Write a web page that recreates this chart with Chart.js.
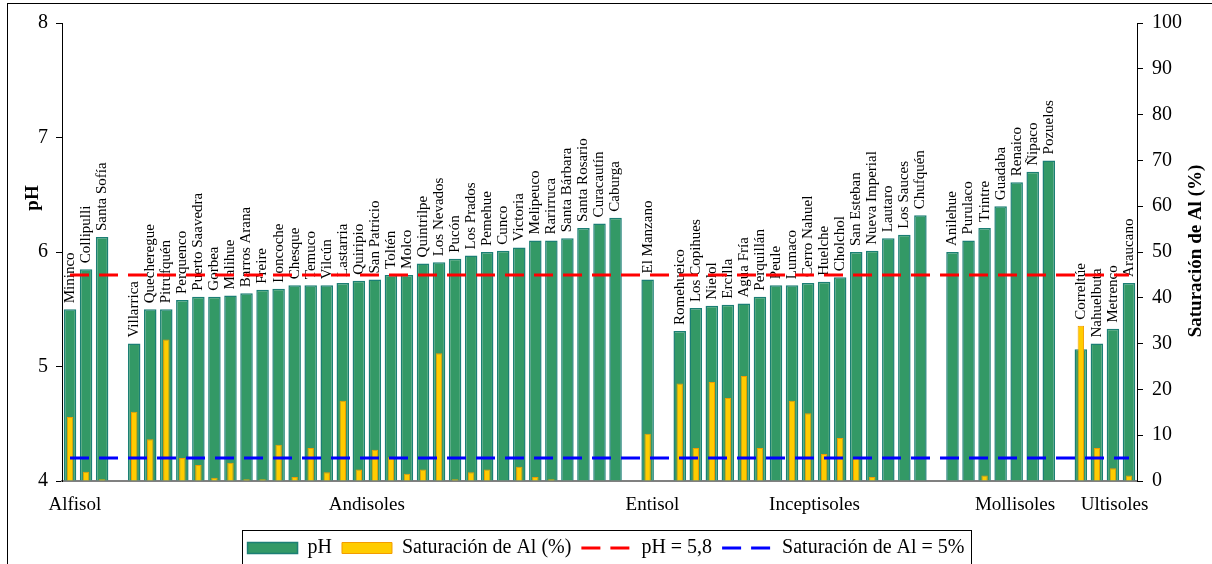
<!DOCTYPE html>
<html>
<head>
<meta charset="utf-8">
<title>pH y saturación de Al</title>
<script src="https://cdn.jsdelivr.net/npm/chart.js@4.4.1/dist/chart.umd.min.js"></script>
<style>
    html, body { margin: 0; padding: 0; background: #fff; overflow: hidden; }
    #wrap { position: relative; width: 1212px; height: 564px; }
    #frame { position: absolute; left: 7px; top: 3px; width: 1230px; height: 600px; border: 1px solid #000; box-sizing: border-box; pointer-events: none; }
</style>
</head>
<body>
<div id="wrap">
    <canvas id="chart" width="1212" height="564"></canvas>
    <div id="frame"></div>
</div>
<script>
// Soil orders and the sites in each one
const soilOrders = ['Alfisol', 'Andisoles', 'Entisol', 'Inceptisoles', 'Mollisoles', 'Ultisoles'];

const alfisolSites = ['Mininco', 'Collipulli', 'Santa Sofía'];
const andisolSites = ['Villarrica', 'Quecheregue', 'Pitrufquén', 'Perquenco', 'Puerto Saavedra', 'Gorbea', 'Malihue',
    'Barros Arana', 'Freire', 'Loncoche', 'Chesque', 'Temuco', 'Vilcún', 'Lastarria', 'Quiripio', 'San Patricio',
    'Toltén', 'Molco', 'Quintrilpe', 'Los Nevados', 'Pucón', 'Los Prados', 'Pemehue', 'Cunco', 'Victoria',
    'Melipeuco', 'Rarirruca', 'Santa Bárbara', 'Santa Rosario', 'Curacautín', 'Caburga'];
const entisolSites = ['El Manzano'];
const inceptisolSites = ['Romehueico', 'Los Copihues', 'Nielol', 'Ercilla', 'Agua Fría', 'Perquillán', 'Peule',
    'Lumaco', 'Cerro Nahuel', 'Huelche', 'Cholchol', 'San Esteban', 'Nueva Imperial', 'Lautaro', 'Los Sauces', 'Chufquén'];
const mollisolSites = ['Anilehue', 'Purulaco', 'Trintre', 'Guadaba', 'Renaico', 'Ñipaco', 'Pozuelos'];
const ultisolSites = ['Correltúe', 'Nahuelbuta', 'Metrenco', 'Araucano'];

// pH per site
const alfisolPh = [5.50, 5.85, 6.13];
const andisolPh = [5.20, 5.50, 5.50, 5.58, 5.61, 5.61, 5.62, 5.64, 5.67, 5.68, 5.71, 5.71, 5.71, 5.73, 5.75, 5.76,
    5.80, 5.80, 5.90, 5.91, 5.94, 5.97, 6.00, 6.01, 6.04, 6.10, 6.10, 6.12, 6.21, 6.25, 6.30];
const entisolPh = [5.76];
const inceptisolPh = [5.31, 5.51, 5.53, 5.54, 5.55, 5.61, 5.71, 5.71, 5.73, 5.74, 5.78, 6.00, 6.01, 6.12, 6.15, 6.32];
const mollisolPh = [6.00, 6.10, 6.21, 6.40, 6.61, 6.70, 6.80];
const ultisolPh = [5.15, 5.20, 5.33, 5.73];

// Al saturation (%) per site
const alfisolAl = [14, 2, 0.4];
const andisolAl = [15.1, 9.1, 30.9, 5.0, 3.5, 0.7, 4.0, 0.4, 0.4, 7.9, 0.9, 7.2, 1.9, 17.5, 2.5, 6.8,
    5.2, 1.6, 2.5, 27.9, 0.4, 1.9, 2.5, 0, 3.1, 0.9, 0.4, 0, 0, 0, 0];
const entisolAl = [10.3];
const inceptisolAl = [21.3, 7.2, 21.6, 18.1, 22.9, 7.2, 0, 17.5, 14.8, 5.9, 9.4, 5.2, 0.9, 0, 0, 0];
const mollisolAl = [0, 0, 1.2, 0, 0, 0, 0];
const ultisolAl = [33.9, 7.2, 2.8, 1.2];

// Reference limits
const phLimit = 5.8;
const alLimit = 5;

// Where the soil order names sit along the category axis (in category units)
const soilLabelPos = [0.3, 18.5, 36.3, 46.4, 58.9, 65.1];

const sitesBySoil = [alfisolSites, andisolSites, entisolSites, inceptisolSites, mollisolSites, ultisolSites];
const phBySoil = [alfisolPh, andisolPh, entisolPh, inceptisolPh, mollisolPh, ultisolPh];
const alBySoil = [alfisolAl, andisolAl, entisolAl, inceptisolAl, mollisolAl, ultisolAl];

// Flatten, leaving one empty slot between soil orders
const labels = [];
const phValues = [];
const alValues = [];
sitesBySoil.forEach((sites, g) => {
    if (g > 0) {
        labels.push('');
        phValues.push(null);
        alValues.push(null);
    }
    sites.forEach((site, k) => {
        labels.push(site);
        phValues.push(phBySoil[g][k]);
        alValues.push(alBySoil[g][k]);
    });
});

const serif = '"Liberation Serif", "Times New Roman", serif';

// Site names written vertically above each bar
const siteLabels = {
    id: 'siteLabels',
    beforeDatasetsDraw(chart) {
        const ctx = chart.ctx;
        const phMeta = chart.getDatasetMeta(0);
        const alMeta = chart.getDatasetMeta(1);
        ctx.save();
        ctx.font = '15px ' + serif;
        ctx.fillStyle = '#000';
        ctx.textAlign = 'left';
        ctx.textBaseline = 'middle';
        labels.forEach((name, i) => {
            if (!name) return;
            const bar = phMeta.data[i];
            let top = bar.y;
            if (alValues[i]) top = Math.min(top, alMeta.data[i].y);
            ctx.save();
            ctx.translate(bar.x, top - 6);
            ctx.rotate(-Math.PI / 2);
            ctx.fillText(name, 0, 0);
            ctx.restore();
        });
        ctx.restore();
    }
};

// Axis titles (both read bottom to top) and the frame round the legend
const extras = {
    id: 'extras',
    afterDraw(chart) {
        const ctx = chart.ctx;
        ctx.save();
        ctx.fillStyle = '#000';
        ctx.font = 'bold 19px ' + serif;
        ctx.textAlign = 'center';
        ctx.textBaseline = 'middle';

        ctx.save();
        ctx.translate(33, 198);
        ctx.rotate(-Math.PI / 2);
        ctx.fillText('pH', 0, 0);
        ctx.restore();

        ctx.save();
        ctx.translate(1196, 251);
        ctx.rotate(-Math.PI / 2);
        ctx.fillText('Saturación de Al (%)', 0, 0);
        ctx.restore();

        const boxes = chart.legend.legendHitBoxes;
        if (boxes && boxes.length) {
            const first = boxes[0];
            const last = boxes[boxes.length - 1];
            const left = first.left - 6;
            const right = last.left + last.width + 6;
            ctx.strokeStyle = '#000';
            ctx.lineWidth = 1;
            ctx.strokeRect(Math.round(left) + 0.5, 530.5, Math.round(right - left), 40);
        }
        ctx.restore();
    }
};

new Chart(document.getElementById('chart'), {
    data: {
        labels: labels,
        datasets: [
            {
                type: 'bar',
                label: 'pH',
                data: phValues,
                yAxisID: 'y',
                base: 4,
                grouped: false,
                backgroundColor: '#339966',
                borderColor: '#1b7f74',
                borderWidth: 1.5,
                barPercentage: 0.78,
                categoryPercentage: 1,
                order: 3
            },
            {
                type: 'bar',
                label: 'Saturación de Al (%)',
                data: alValues,
                yAxisID: 'y1',
                grouped: false,
                backgroundColor: '#FFCC00',
                borderColor: '#F39C00',
                borderWidth: 1,
                barPercentage: 0.4,
                categoryPercentage: 1,
                order: 2
            },
            {
                type: 'line',
                label: 'pH = 5,8',
                data: [{ x: labels[0], y: phLimit }, { x: labels[labels.length - 1], y: phLimit }],
                yAxisID: 'y',
                borderColor: '#FF0000',
                backgroundColor: '#FF0000',
                borderWidth: 3,
                borderDash: [19, 10],
                pointRadius: 0,
                order: 1
            },
            {
                type: 'line',
                label: 'Saturación de Al = 5%',
                data: [{ x: labels[0], y: alLimit }, { x: labels[labels.length - 1], y: alLimit }],
                yAxisID: 'y1',
                borderColor: '#0000FF',
                backgroundColor: '#0000FF',
                borderWidth: 3,
                borderDash: [19, 10],
                pointRadius: 0,
                order: 0
            }
        ]
    },
    options: {
        responsive: false,
        animation: false,
        layout: { padding: { top: 23, left: 0, right: 0, bottom: -4 } },
        plugins: {
            tooltip: { enabled: false },
            legend: {
                position: 'bottom',
                labels: {
                    font: { family: serif, size: 20 },
                    color: '#000',
                    usePointStyle: true,
                    pointStyleWidth: 50,
                    boxHeight: 11,
                    padding: 10,
                    sort: (a, b) => a.datasetIndex - b.datasetIndex,
                    generateLabels(chart) {
                        const items = Chart.defaults.plugins.legend.labels.generateLabels(chart);
                        items.forEach(item => {
                            const ds = chart.data.datasets[item.datasetIndex];
                            item.pointStyle = ds.type === 'line' ? 'line' : 'rect';
                            item.strokeStyle = ds.borderColor;
                            item.lineWidth = ds.borderWidth;
                            item.lineDash = ds.borderDash || [];
                        });
                        return items;
                    }
                }
            }
        },
        scales: {
            x: {
                type: 'category',
                display: false,
                offset: true
            },
            xg: {
                type: 'linear',
                position: 'bottom',
                min: -0.5,
                max: labels.length - 0.5,
                grid: { display: false, drawTicks: false },
                border: { display: true, color: '#808080', width: 2 },
                afterBuildTicks(scale) {
                    scale.ticks = soilLabelPos.map(v => ({ value: v }));
                },
                afterFit(scale) {
                    scale.height = 47;
                },
                ticks: {
                    autoSkip: false,
                    maxRotation: 0,
                    padding: 13,
                    color: '#000',
                    font: { family: serif, size: 19 },
                    callback: (value, index) => soilOrders[index]
                }
            },
            y: {
                position: 'left',
                min: 4,
                max: 8,
                ticks: { stepSize: 1, color: '#000', padding: 8, font: { family: serif, size: 20 } },
                grid: { drawOnChartArea: false, color: '#000', tickLength: 6 },
                border: { color: '#000', width: 1 },
                afterFit(scale) {
                    scale.width = 62;
                }
            },
            y1: {
                position: 'right',
                min: 0,
                max: 100,
                ticks: { stepSize: 10, color: '#000', padding: 9, font: { family: serif, size: 20 } },
                grid: { drawOnChartArea: false, color: '#000', tickLength: 6 },
                border: { color: '#000', width: 1 },
                afterFit(scale) {
                    scale.width = 75;
                }
            }
        }
    },
    plugins: [siteLabels, extras]
});
</script>
</body>
</html>
